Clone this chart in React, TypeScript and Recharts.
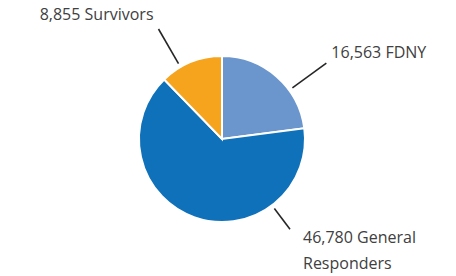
import React from 'react';
import { PieChart, Pie, Cell } from 'recharts';

const categories = ['FDNY', 'General Responders', 'Survivors'];
const values = [16563, 46780, 8855];
const labelLines = [['16,563 FDNY'], ['46,780 General', 'Responders'], ['8,855 Survivors']];
const colors = ['#6B95CD', '#0F71B9', '#F6A31E'];

// leader-line layout per slice: angle (deg), length, text offset
const layout = [
  { angle: 36, len: 46, dx: 5, dy: -5, anchor: 'start' },
  { angle: -53, len: 30, dx: 13, dy: 14, anchor: 'start' },
  { angle: 120, len: 44, dx: -5, dy: -9, anchor: 'end' },
];

const data = categories.map((c, i) => ({ name: c, value: values[i] }));

const RAD = Math.PI / 180;

const renderLabel = (props: any) => {
  const { cx, cy, outerRadius, index } = props;
  const l = layout[index];
  const a = l.angle * RAD;
  const x1 = cx + (outerRadius + 4) * Math.cos(a);
  const y1 = cy - (outerRadius + 4) * Math.sin(a);
  const x2 = cx + (outerRadius + l.len) * Math.cos(a);
  const y2 = cy - (outerRadius + l.len) * Math.sin(a);
  const lines = labelLines[index];
  return (
    <g key={`lbl-${index}`}>
      <line x1={x1} y1={y1} x2={x2} y2={y2} stroke="#262626" strokeWidth={1.6} />
      <text
        x={x2 + l.dx}
        y={y2 + l.dy}
        textAnchor={l.anchor as any}
        fill="#404040"
        fontSize={16}
        fontFamily="'Open Sans', 'Noto Sans', sans-serif"
      >
        {lines.map((t, k) => (
          <tspan key={k} x={x2 + l.dx} dy={k === 0 ? 0 : 26}>
            {t}
          </tspan>
        ))}
      </text>
    </g>
  );
};

export default function App() {
  return (
    <div style={{ position: 'absolute', left: 0, top: 0, width: 456, height: 276, background: '#fff' }}>
      <PieChart width={456} height={276} margin={{ top: 0, right: 0, bottom: 0, left: 0 }}>
        <Pie
          data={data}
          dataKey="value"
          nameKey="name"
          cx={222}
          cy={139}
          outerRadius={83}
          startAngle={90}
          endAngle={-270}
          stroke="#ffffff"
          strokeWidth={2}
          isAnimationActive={false}
          labelLine={false}
          label={renderLabel}
        >
          {data.map((d, i) => (
            <Cell key={d.name} fill={colors[i]} />
          ))}
        </Pie>
      </PieChart>
    </div>
  );
}
